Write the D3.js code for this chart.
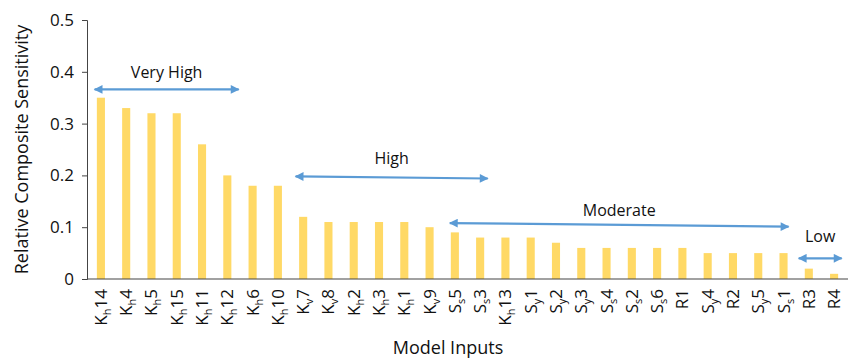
<!DOCTYPE html>
<html><head><meta charset="utf-8">
<script src="https://cdn.jsdelivr.net/npm/d3@7"></script>
<style>body{margin:0;background:#fff;} text{font-family:"Open Sans","Liberation Sans",sans-serif;fill:#111;}</style>
</head><body><svg id="c" width="850" height="360"></svg>
<script>
// Categories: base letter, subscript, suffix
const catBase = ["K","K","K","K","K","K","K","K","K","K","K","K","K","K","S","S","K","S","S","S","S","S","S","R","S","R","S","S","R","R"];
const catSub  = ["h","h","h","h","h","h","h","h","v","v","h","h","h","v","s","s","h","y","y","y","s","s","s","","y","","y","s","",""];
const catNum  = ["14","4","5","15","11","12","6","10","7","8","2","3","1","9","5","3","13","1","2","3","4","2","6","1","4","2","5","1","3","4"];
const values  = [0.35,0.33,0.32,0.32,0.26,0.20,0.18,0.18,0.12,0.11,0.11,0.11,0.11,0.10,0.09,0.08,0.08,0.08,0.07,0.06,0.06,0.06,0.06,0.06,0.05,0.05,0.05,0.05,0.02,0.01];
const yTicks  = [0,0.1,0.2,0.3,0.4,0.5];
// Annotation groups: label, start index, end index (category units), y values at start/end
const groupLabels = ["Very High","High","Moderate","Low"];
const groupStart  = [-0.25, 7.7, 13.8, 27.6];
const groupEnd    = [5.45, 15.3, 27.2, 29.3];
const groupY0     = [0.366, 0.198, 0.108, 0.040];
const groupY1     = [0.366, 0.194, 0.101, 0.040];
const groupLabelY = [0.388, 0.222, 0.122, 0.072];

const svg = d3.select("#c");
const m = {l:87, r:848, t:20, b:279};
const ids = d3.range(values.length);
const x = d3.scaleBand().domain(ids).range([m.l, m.r]).paddingInner(0.68).paddingOuter(0.39);
const y = d3.scaleLinear().domain([0,0.5]).range([m.b, m.t]);
const xi = v => x(0) + x.bandwidth()/2 + v*x.step();

// bars
svg.append("g").selectAll("rect").data(ids).join("rect")
  .attr("x", i=>x(i)).attr("width", x.bandwidth())
  .attr("y", i=>y(values[i])).attr("height", i=>y(0)-y(values[i]))
  .attr("fill","#FFD966");

// y axis
const ya = svg.append("g").attr("transform",`translate(${m.l},0)`)
  .call(d3.axisLeft(y).tickValues(yTicks).tickSize(5).tickPadding(8).tickFormat(d=>d===0?"0":d3.format(".1f")(d)));
ya.select(".domain").attr("stroke","#444");
ya.selectAll(".tick line").attr("stroke","#444");
ya.selectAll("text").style("font-size","17px").style("font-family","'Open Sans',sans-serif").attr("fill","#111");

// x axis line
svg.append("line").attr("x1",m.l).attr("x2",m.r).attr("y1",y(0)).attr("y2",y(0)).attr("stroke","#444").attr("stroke-width",1.2);

// x labels
const lab = svg.append("g").selectAll("text").data(ids).join("text")
  .attr("transform", i=>`translate(${x(i)+x.bandwidth()/2+6},289) rotate(-90)`)
  .attr("text-anchor","end").style("font-size","17px");
lab.each(function(i){
  const t = d3.select(this);
  t.append("tspan").text(catBase[i]);
  if (catSub[i]) {
    t.append("tspan").text(catSub[i]).style("font-size","11px").attr("dy","4");
    t.append("tspan").text(catNum[i]).attr("dy","-4");
  } else {
    t.append("tspan").text(catNum[i]);
  }
});

// axis titles
svg.append("text").attr("transform",`translate(28,${(m.t+m.b)/2}) rotate(-90)`).attr("text-anchor","middle")
  .style("font-size","18px").text("Relative Composite Sensitivity");
svg.append("text").attr("x",448).attr("y",354).attr("text-anchor","middle").style("font-size","18px").text("Model Inputs");

// arrows
const defs = svg.append("defs");
defs.append("marker").attr("id","ah").attr("viewBox","0 0 10 10").attr("refX",9).attr("refY",5)
  .attr("markerWidth",4.5).attr("markerHeight",4).attr("markerUnits","strokeWidth").attr("orient","auto-start-reverse")
  .append("path").attr("d","M0,0 L10,5 L0,10 z").attr("fill","#5B9BD5");
const ag = svg.append("g");
groupLabels.forEach((g,k)=>{
  ag.append("line").attr("x1",xi(groupStart[k])).attr("x2",xi(groupEnd[k]))
    .attr("y1",y(groupY0[k])).attr("y2",y(groupY1[k]))
    .attr("stroke","#5B9BD5").attr("stroke-width",2.2)
    .attr("marker-start","url(#ah)").attr("marker-end","url(#ah)");
  ag.append("text").attr("x",(xi(groupStart[k])+xi(groupEnd[k]))/2).attr("y",y(groupLabelY[k]))
    .attr("text-anchor","middle").style("font-size","16px").text(g);
});
</script></body></html>
